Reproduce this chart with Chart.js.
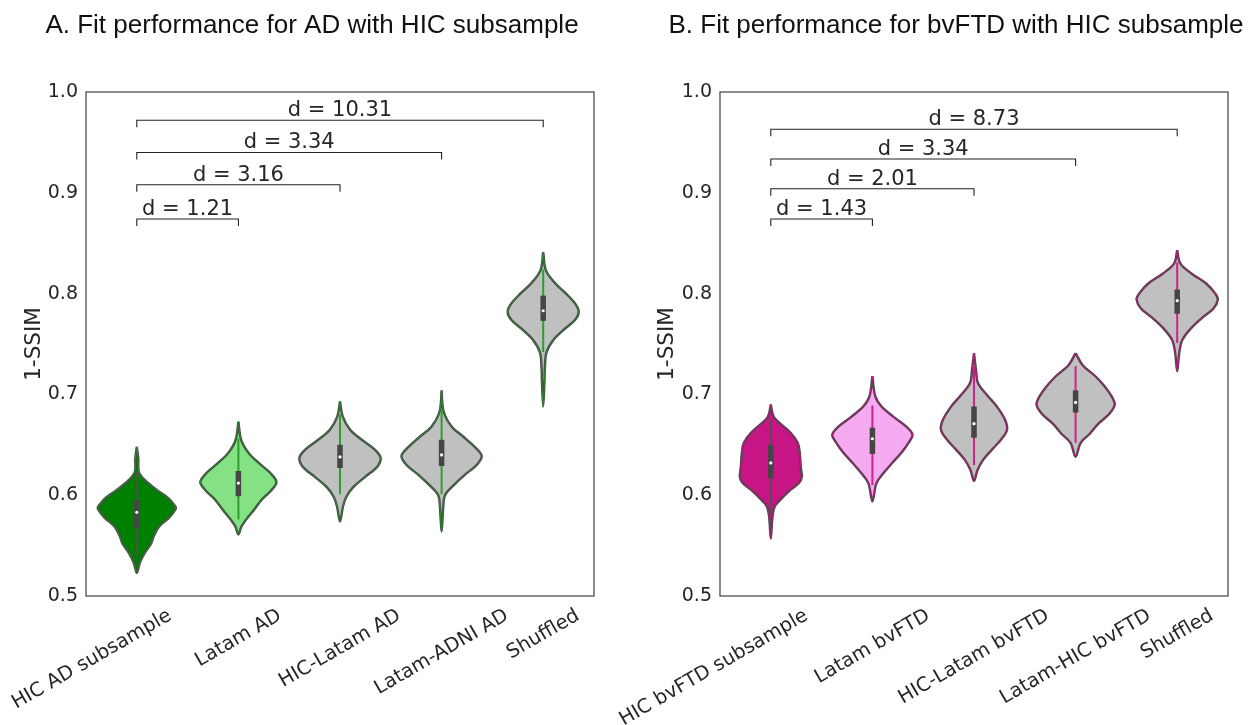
<!DOCTYPE html>
<html>
<head>
<meta charset="utf-8">
<script src="https://cdn.jsdelivr.net/npm/chart.js@4.4.1/dist/chart.umd.min.js"></script>
<style>
body { margin: 0; background: #fff; }
#wrap { position: relative; width: 1255px; height: 725px; overflow: hidden; }
canvas { position: absolute; top: 0; }
</style>
</head>
<body>
<div id="wrap">
  <canvas id="chartAD" width="627" height="725" style="left:0"></canvas>
  <canvas id="chartFTD" width="640" height="725" style="left:615px"></canvas>
</div>
<script>
// Painel A - categorias e dados
const adCategories = ['HIC AD subsample', 'Latam AD', 'HIC-Latam AD', 'Latam-ADNI AD', 'Shuffled'];
const adLevels = [
    [0.648, 0.636, 0.623, 0.615, 0.605, 0.597, 0.590, 0.587, 0.578, 0.569, 0.560, 0.552, 0.543, 0.533, 0.523],
    [0.673, 0.655, 0.642, 0.632, 0.622, 0.613, 0.605, 0.595, 0.585, 0.575, 0.569, 0.561],
    [0.693, 0.678, 0.665, 0.655, 0.645, 0.637, 0.628, 0.618, 0.608, 0.598, 0.589, 0.574],
    [0.704, 0.683, 0.668, 0.658, 0.648, 0.639, 0.630, 0.620, 0.610, 0.600, 0.589, 0.564],
    [0.841, 0.823, 0.810, 0.800, 0.790, 0.782, 0.774, 0.764, 0.754, 0.742, 0.728, 0.714, 0.688]
];
const adHalfWidths = [
    [0, 0.015, 0.02, 0.08, 0.20, 0.31, 0.37, 0.385, 0.32, 0.22, 0.17, 0.14, 0.08, 0.03, 0],
    [0, 0.027, 0.10, 0.20, 0.315, 0.375, 0.325, 0.225, 0.15, 0.07, 0.03, 0],
    [0, 0.027, 0.10, 0.215, 0.345, 0.40, 0.365, 0.245, 0.13, 0.06, 0.03, 0],
    [0, 0.02, 0.10, 0.215, 0.325, 0.395, 0.345, 0.225, 0.12, 0.033, 0.017, 0],
    [0, 0.027, 0.12, 0.225, 0.315, 0.35, 0.315, 0.20, 0.10, 0.033, 0.017, 0.013, 0]
];
const adWhiskerLow = [0.538, 0.576, 0.601, 0.601, 0.742];
const adWhiskerHigh = [0.623, 0.656, 0.680, 0.685, 0.824];
const adQ1 = [0.567, 0.599, 0.627, 0.629, 0.773];
const adQ3 = [0.595, 0.624, 0.650, 0.655, 0.798];
const adMedian = [0.583, 0.612, 0.638, 0.640, 0.783];
const adPairEnd = [1, 2, 3, 4];
const adPairY = [0.874, 0.908, 0.940, 0.972];
const adPairD = ['1.21', '3.16', '3.34', '10.31'];

// Painel B - categorias e dados
const ftdCategories = ['HIC bvFTD subsample', 'Latam bvFTD', 'HIC-Latam bvFTD', 'Latam-HIC bvFTD', 'Shuffled'];
const ftdLevels = [
    [0.690, 0.680, 0.675, 0.662, 0.652, 0.642, 0.628, 0.618, 0.612, 0.604, 0.595, 0.589, 0.579, 0.557],
    [0.718, 0.698, 0.688, 0.678, 0.668, 0.660, 0.652, 0.642, 0.632, 0.622, 0.612, 0.594],
    [0.741, 0.724, 0.711, 0.698, 0.688, 0.675, 0.665, 0.655, 0.645, 0.635, 0.625, 0.614],
    [0.741, 0.729, 0.718, 0.708, 0.698, 0.690, 0.681, 0.671, 0.661, 0.652, 0.638],
    [0.843, 0.830, 0.820, 0.810, 0.800, 0.794, 0.785, 0.776, 0.766, 0.754, 0.741, 0.723]
];
const ftdHalfWidths = [
    [0, 0.02, 0.05, 0.195, 0.265, 0.285, 0.295, 0.305, 0.275, 0.18, 0.09, 0.04, 0.017, 0],
    [0, 0.029, 0.09, 0.205, 0.335, 0.395, 0.355, 0.285, 0.195, 0.11, 0.04, 0],
    [0, 0.02, 0.04, 0.14, 0.225, 0.305, 0.325, 0.265, 0.175, 0.09, 0.035, 0],
    [0, 0.07, 0.195, 0.285, 0.355, 0.385, 0.335, 0.225, 0.14, 0.05, 0],
    [0, 0.03, 0.14, 0.285, 0.375, 0.40, 0.355, 0.245, 0.14, 0.05, 0.02, 0]
];
const ftdWhiskerLow = [0.580, 0.610, 0.630, 0.652, 0.751];
const ftdWhiskerHigh = [0.675, 0.689, 0.728, 0.728, 0.831];
const ftdQ1 = [0.617, 0.641, 0.657, 0.682, 0.780];
const ftdQ3 = [0.650, 0.667, 0.688, 0.704, 0.804];
const ftdMedian = [0.632, 0.656, 0.671, 0.692, 0.793];
const ftdPairEnd = [1, 2, 3, 4];
const ftdPairY = [0.874, 0.904, 0.9335, 0.963];
const ftdPairD = ['1.43', '2.01', '3.34', '8.73'];

const yTicks = [0.5, 0.6, 0.7, 0.8, 0.9, 1.0];
const TICK_FONT = '"DejaVu Sans", sans-serif';

// Monta os datasets de um painel (violinos, caixas e colchetes)
function buildDatasets(p) {
    const sets = [];
    p.levels.forEach((lev, i) => {
        const hw = p.halfWidths[i];
        const right = lev.map((y, k) => ({ x: i + hw[k], y }));
        const left = lev.map((y, k) => ({ x: i - hw[k], y })).reverse().slice(1);
        const outline = right.concat(left);
        sets.push({ data: outline, showLine: true, fill: 'shape', backgroundColor: p.fills[i],
            borderColor: '#474747', borderWidth: 2.4, tension: 0.35, pointRadius: 0, order: 10 });
        sets.push({ data: outline, showLine: true, fill: false, borderColor: p.edge,
            borderWidth: 0.9, tension: 0.35, pointRadius: 0, order: 9 });
        sets.push({ data: [{ x: i, y: p.wLow[i] }, { x: i, y: p.wHigh[i] }], showLine: true,
            borderColor: p.whisker[i], borderWidth: 2, pointRadius: 0, order: 8 });
        sets.push({ data: [{ x: i, y: p.q1[i] }, { x: i, y: p.q3[i] }], showLine: true,
            borderColor: '#454545', borderWidth: 5.5, borderCapStyle: 'butt', pointRadius: 0, order: 7 });
        sets.push({ data: [{ x: i, y: p.median[i] }], pointRadius: 1.6, pointBorderWidth: 0,
            pointBackgroundColor: '#ffffff', order: 6 });
    });
    p.pairEnd.forEach((e, k) => {
        const y = p.pairY[k];
        sets.push({ data: [{ x: 0, y: y - 0.007 }, { x: 0, y }, { x: e, y }, { x: e, y: y - 0.007 }],
            showLine: true, borderColor: '#222', borderWidth: 1.1, pointRadius: 0, order: 5 });
    });
    return sets;
}

// Plugin para moldura, título, rótulos "d =" e rótulos do eixo x
function makeDecor(p) {
    return {
        id: 'decor',
        afterDraw(chart) {
            const { ctx, chartArea: a, scales: { x, y } } = chart;
            ctx.save();
            ctx.strokeStyle = '#4d4d4d';
            ctx.lineWidth = 1.3;
            ctx.strokeRect(a.left, a.top, a.right - a.left, a.bottom - a.top);

            ctx.fillStyle = '#111';
            ctx.font = '26px "Liberation Sans", Arial, sans-serif';
            ctx.textAlign = 'center';
            ctx.textBaseline = 'alphabetic';
            ctx.fillText(p.title, p.titleX, 33);

            ctx.fillStyle = '#262626';
            ctx.font = '21px ' + TICK_FONT;
            p.pairEnd.forEach((e, k) => {
                ctx.fillText('d = ' + p.pairD[k], x.getPixelForValue(e / 2), y.getPixelForValue(p.pairY[k]) - 4);
            });

            const fs = 19.5;
            const rot = Math.PI / 6;
            ctx.font = fs + 'px ' + TICK_FONT;
            ctx.textBaseline = 'middle';
            p.categories.forEach((lab, i) => {
                const L = ctx.measureText(lab).width;
                const H = L * Math.sin(rot) + fs * Math.cos(rot);
                const cx = x.getPixelForValue(i) + (p.labelShift[i] || 0);
                const cy = a.bottom + 10 + H / 2;
                ctx.save();
                ctx.translate(cx, cy);
                ctx.rotate(-rot);
                ctx.fillText(lab, 0, 0);
                ctx.restore();
            });
            ctx.restore();
        }
    };
}

// Cria um painel
function makeChart(id, p) {
    return new Chart(document.getElementById(id), {
        type: 'scatter',
        data: { datasets: buildDatasets(p) },
        options: {
            responsive: false,
            animation: false,
            events: [],
            layout: { padding: { left: 0, right: p.padRight, top: 92, bottom: 0 } },
            plugins: { legend: { display: false }, tooltip: { enabled: false }, title: { display: false } },
            scales: {
                x: {
                    type: 'linear', min: -0.5, max: 4.5,
                    ticks: { display: false },
                    grid: { display: false, drawTicks: false },
                    border: { display: false },
                    afterFit: s => { s.height = 129; }
                },
                y: {
                    min: 0.5, max: 1.0,
                    afterBuildTicks: s => { s.ticks = yTicks.map(v => ({ value: v })); },
                    ticks: { callback: v => v.toFixed(1), color: '#262626', padding: 8,
                        font: { family: TICK_FONT, size: 19 } },
                    grid: { display: false, drawTicks: false },
                    border: { display: false },
                    title: { display: true, text: '1-SSIM', color: '#262626',
                        font: { family: TICK_FONT, size: 21.5 }, padding: { top: p.yTitlePad, bottom: 0 } },
                    afterFit: s => { s.width = p.yWidth; }
                }
            }
        },
        plugins: [makeDecor(p)]
    });
}

makeChart('chartAD', {
    title: 'A. Fit performance for AD with HIC subsample', titleX: 312,
    categories: adCategories, levels: adLevels, halfWidths: adHalfWidths,
    wLow: adWhiskerLow, wHigh: adWhiskerHigh, q1: adQ1, q3: adQ3, median: adMedian,
    pairEnd: adPairEnd, pairY: adPairY, pairD: adPairD,
    fills: ['#008000', '#84e184', '#c0c0c0', '#c0c0c0', '#c0c0c0'],
    edge: '#2e8b2e',
    whisker: ['#4f4f4f', '#2e9e2e', '#2e9e2e', '#2e9e2e', '#2e9e2e'],
    labelShift: [-45, 0, 0, 0, 0],
    padRight: 33, yWidth: 86, yTitlePad: 22
});

makeChart('chartFTD', {
    title: 'B. Fit performance for bvFTD with HIC subsample', titleX: 341,
    categories: ftdCategories, levels: ftdLevels, halfWidths: ftdHalfWidths,
    wLow: ftdWhiskerLow, wHigh: ftdWhiskerHigh, q1: ftdQ1, q3: ftdQ3, median: ftdMedian,
    pairEnd: ftdPairEnd, pairY: ftdPairY, pairD: ftdPairD,
    fills: ['#c71585', '#f5aaf2', '#c0c0c0', '#c0c0c0', '#c0c0c0'],
    edge: '#c71585',
    whisker: ['#5a4a55', '#d0208a', '#d0208a', '#d0208a', '#d0208a'],
    labelShift: [-57, 0, 0, 0, 0],
    padRight: 27, yWidth: 105, yTitlePad: 40
});
</script>
</body>
</html>
